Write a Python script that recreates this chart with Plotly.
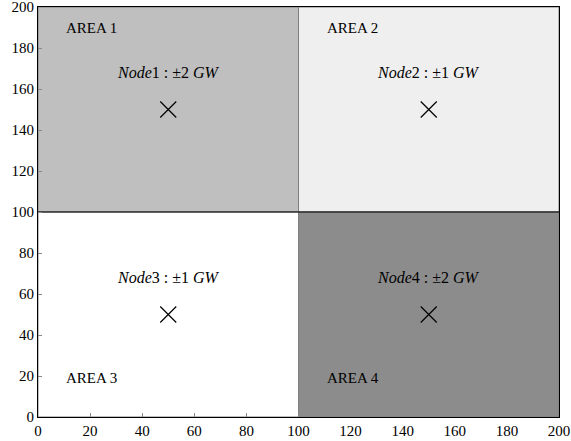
import plotly.graph_objects as go

# Areas: x0, x1, y0, y1, fill colour
area_names = ["AREA 1", "AREA 2", "AREA 3", "AREA 4"]
area_x0 = [0, 100, 0, 100]
area_x1 = [100, 200, 100, 200]
area_y0 = [100, 100, 0, 0]
area_y1 = [200, 200, 100, 100]
area_colors = ["#bfbfbf", "#efefef", "#ffffff", "#8c8c8c"]
area_label_x = [10, 110, 10, 110]
area_label_y = [190, 190, 19, 19]

# Nodes
node_names = ["Node1", "Node2", "Node3", "Node4"]
node_x = [50, 150, 50, 150]
node_y = [150, 150, 50, 50]
node_gw = [2, 1, 1, 2]
node_label_y = [168, 168, 68, 68]

ticks = [0, 20, 40, 60, 80, 100, 120, 140, 160, 180, 200]

FONT = "Liberation Serif"

fig = go.Figure()

shapes = []
for x0, x1, y0, y1, c in zip(area_x0, area_x1, area_y0, area_y1, area_colors):
    shapes.append(dict(type="rect", xref="x", yref="y", x0=x0, x1=x1, y0=y0, y1=y1,
                       fillcolor=c, line=dict(color="#7f7f7f", width=1), layer="below"))
shapes.append(dict(type="line", xref="x", yref="y", x0=0, x1=200, y0=100, y1=100,
                   line=dict(color="#000000", width=1.2), layer="below"))

fig.add_trace(go.Scatter(
    x=node_x, y=node_y, mode="markers",
    marker=dict(symbol="x-thin-open", size=16, color="black", line=dict(width=1.2, color="black")),
    showlegend=False, hoverinfo="skip"))

annotations = []
for name, lx, ly in zip(area_names, area_label_x, area_label_y):
    annotations.append(dict(x=lx, y=ly, xref="x", yref="y", text=name, showarrow=False,
                            xanchor="left", yanchor="middle",
                            font=dict(family=FONT, size=15, color="black")))
for name, nx, ly, gw in zip(node_names, node_x, node_label_y, node_gw):
    txt = "<i>%s</i>%s : ±%d <i>GW</i>" % (name[:-1], name[-1], gw)
    annotations.append(dict(x=nx, y=ly, xref="x", yref="y", text=txt, showarrow=False,
                            xanchor="center", yanchor="middle",
                            font=dict(family=FONT, size=16, color="black")))

axis_common = dict(range=[0, 200], tickvals=ticks, ticktext=[str(t) for t in ticks],
                   showgrid=False, zeroline=False, showline=True, linecolor="black",
                   linewidth=1, mirror=True, ticks="inside", ticklen=4, tickcolor="#888888",
                   ticklabeloverflow="allow", automargin=False,
                   tickfont=dict(family=FONT, size=15, color="black"))

fig.update_layout(
    width=571, height=441,
    margin=dict(l=38, r=12, t=7, b=24, autoexpand=False),
    paper_bgcolor="white", plot_bgcolor="white",
    shapes=shapes, annotations=annotations,
    xaxis=dict(**axis_common),
    yaxis=dict(**axis_common),
)

fig.write_html("out.html")
